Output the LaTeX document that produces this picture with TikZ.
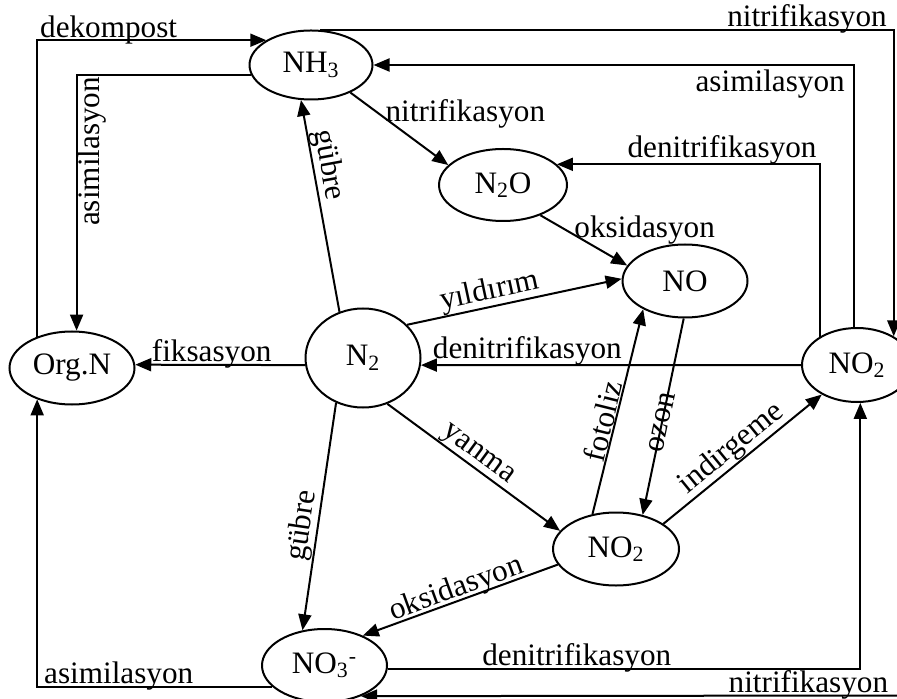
\documentclass[tikz,border=0pt]{standalone}
\usepackage{fontspec}
\setmainfont{Liberation Serif}
\usetikzlibrary{shapes.geometric, arrows.meta}

\begin{document}
\begin{tikzpicture}[%
    x=0.5pt, y=-0.5pt,        % piksel gibi koordinatlar
    >={Triangle[length=8pt,width=6.5pt]},
    line width=1pt,           % cizgi kalinligi
    every node/.style={font=\fontsize{15.6}{18}\selectfont},
    mol/.style={draw, ellipse, inner sep=0pt, minimum width=62.5pt, minimum height=36.5pt},
    lbl/.style={inner sep=0pt},
    ust/.style={inner sep=0pt, yshift=1.5pt}
]
\useasboundingbox (0,0) rectangle (897,699);

    % ==========================================
    % 1. Bilesikler (Nodes)
    % ==========================================
    \node[mol, minimum width=61.5pt, minimum height=34.5pt] (nh3) at (311,65) {NH\textsubscript{3}};
    \node[mol] (orgn) at (72,368) {Org.N};
    \node[mol, minimum width=57.5pt, minimum height=49.5pt] (ntwo) at (363,358) {N\textsubscript{2}};
    \node[mol, minimum width=64pt, minimum height=36pt] (ntwoo) at (503,185) {N\textsubscript{2}O};
    \node[mol] (no) at (685,281) {NO};
    \node[mol, minimum width=55pt, minimum height=37pt] (notwor) at (857,365) {NO\textsubscript{2}};
    \node[mol, minimum width=63pt] (notwob) at (616,549) {NO\textsubscript{2}};
    \node[mol] (nothree) at (324.5,665.5) {NO\textsubscript{3}\textsuperscript{-}};
    \coordinate (kenar) at (900,695.5);

    % ==========================================
    % 2. Dogrudan oklar (Edges)
    % ==========================================
    \path[->]
        % --- N2 ---
        (ntwo.117) edge node[lbl, sloped, above, pos=.68] {gübre} (nh3.-106)
        (ntwo.37) edge node[lbl, sloped, above, pos=.4] {yıldırım} (no.178)
        (ntwo.187) edge node[ust, anchor=base, pos=.55] {fiksasyon} (orgn.3)
        (ntwo.-62) edge node[lbl, sloped, above, pos=.48] {yanma} (notwob.162)
        (ntwo.239) edge node[lbl, sloped, above, pos=.55] {gübre} (nothree.122)
        % --- NH3 / N2O ---
        (nh3.-35) edge node[lbl, pos=.35, anchor=base west, yshift=-2pt] {nitrifikasyon} (ntwoo.160)
        (ntwoo.-39) edge node[lbl, pos=.45, anchor=base west, xshift=-3pt] {oksidasyon} (no.165)
        % --- NO / NO2 ---
        (notwob.124) edge node[lbl, sloped, above, pos=.44] {fotoliz} (no.214)
        (no.-92) edge node[lbl, sloped, pos=.53] {ozon} (notwob.52)
        (notwob.28) edge node[lbl, sloped, above, pos=.49] {indirgeme} (notwor.220)
        (notwor.west) edge node[ust, anchor=base, pos=.72, yshift=2pt] {denitrifikasyon} (ntwo.-7)
        (notwob.195) edge node[lbl, sloped, above=-2pt, pos=.5] {oksidasyon} (nothree.38)
        (kenar) edge node[ust, anchor=base, pos=.17] {nitrifikasyon} (nothree.-40);

    % ==========================================
    % 3. Kirik oklar (dis cerceve)
    % ==========================================
    \draw[->] (orgn.138) |- node[ust, pos=.5, anchor=base west, xshift=1pt] {dekompost} (nh3.151);
    \draw[->] (nh3.189) -| node[lbl, pos=.65, rotate=90, anchor=north] {asimilasyon} (orgn.83);
    \draw[->] (nh3.75) -| node[ust, pos=.5, anchor=base east, xshift=-3pt] {nitrifikasyon} (notwor.38);
    \draw[->] (notwor.95) |- node[lbl, pos=.5, anchor=north east, inner sep=2pt, xshift=-2pt] {asimilasyon} (nh3.east);
    \draw[->] (notwor.143) |- node[ust, pos=.5, anchor=base east, xshift=-1pt, yshift=2pt] {denitrifikasyon} (ntwoo.21);
    \draw[->] (nothree.202) -| node[ust, pos=.5, anchor=base west, xshift=3pt] {asimilasyon} (orgn.222);
    \draw[->] (nothree.-3) -| node[ust, pos=.2, anchor=base] {denitrifikasyon} (notwor.-85);

\end{tikzpicture}
\end{document}
